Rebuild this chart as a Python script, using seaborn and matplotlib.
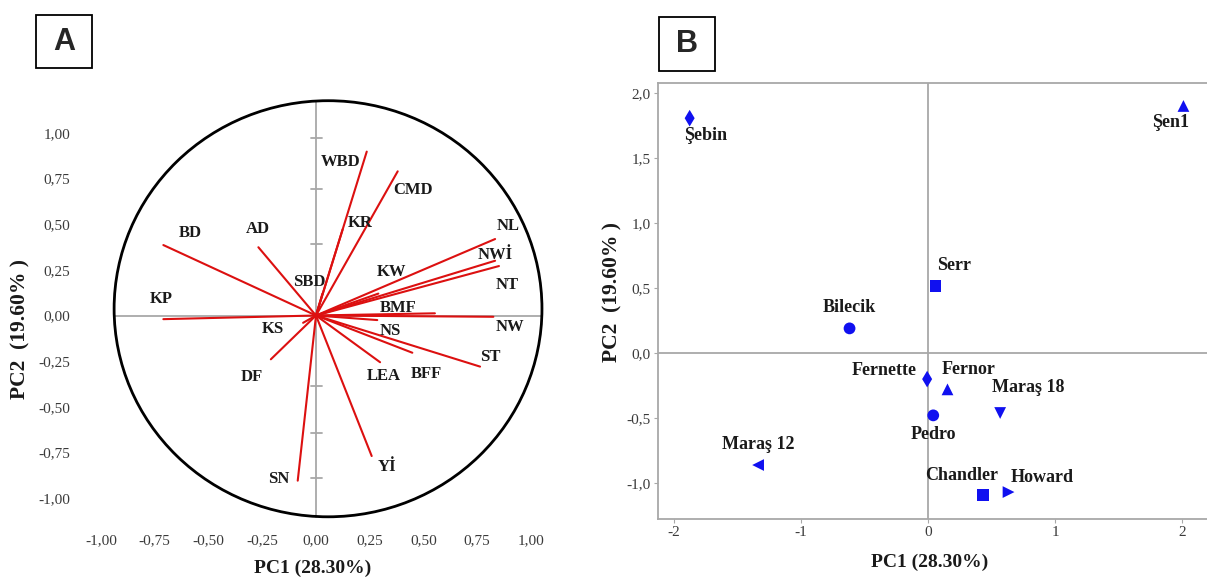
import numpy as np
import pandas as pd
import matplotlib
matplotlib.use("Agg")
import matplotlib.pyplot as plt
from matplotlib.patches import Ellipse, Rectangle
import seaborn as sns

# Panel A: loadings of the traits on PC1 / PC2
traits = ['WBD', 'CMD', 'KR', 'SBD', 'BD', 'AD', 'KP', 'NL', 'NWİ', 'NT', 'KW',
          'BMF', 'NW', 'NS', 'KS', 'DF', 'LEA', 'BFF', 'ST', 'SN', 'Yİ']
load_pc1 = [0.236, 0.380, 0.124, 0.030, -0.710, -0.268, -0.710, 0.833, 0.833, 0.851, 0.290,
            0.553, 0.825, 0.285, -0.060, -0.210, 0.298, 0.448, 0.763, -0.085, 0.259]
load_pc2 = [0.898, 0.790, 0.472, 0.120, 0.386, 0.374, -0.020, 0.419, 0.300, 0.271, 0.120,
            0.012, -0.007, -0.025, -0.040, -0.240, -0.256, -0.204, -0.280, -0.905, -0.770]

# Panel B: cultivar scores
cultivars = ['Şebin', 'Şen1', 'Serr', 'Bilecik', 'Fernette', 'Fernor', 'Maraş 18',
             'Pedro', 'Maraş 12', 'Chandler', 'Howard']
score_pc1 = [-1.873, 2.009, 0.060, -0.616, -0.006, 0.154, 0.568, 0.042, -1.335, 0.435, 0.634]
score_pc2 = [1.804, 1.898, 0.515, 0.187, -0.203, -0.282, -0.464, -0.482, -0.864, -1.097, -1.072]

ticks_a = [-1.0, -0.75, -0.5, -0.25, 0.0, 0.25, 0.5, 0.75, 1.0]
ticks_b_x = [-2, -1, 0, 1, 2]
ticks_b_y = [-1.0, -0.5, 0.0, 0.5, 1.0, 1.5, 2.0]

# where the trait labels sit (layout only)
label_pos_a = {
    'WBD': (0.115, 0.843), 'CMD': (0.450, 0.688), 'KR': (0.205, 0.505), 'SBD': (-0.033, 0.185),
    'BD': (-0.586, 0.454), 'AD': (-0.271, 0.474), 'KP': (-0.718, 0.090), 'NL': (0.894, 0.490),
    'NWİ': (0.833, 0.331), 'NT': (0.887, 0.167), 'KW': (0.352, 0.240), 'BMF': (0.383, 0.043),
    'NW': (0.902, -0.061), 'NS': (0.344, -0.085), 'KS': (-0.199, -0.076), 'DF': (-0.299, -0.335),
    'LEA': (0.313, -0.330), 'BFF': (0.512, -0.322), 'ST': (0.809, -0.226), 'SN': (-0.171, -0.898),
    'Yİ': (0.332, -0.829),
}
label_pos_b = {
    'Şebin': (-1.75, 1.67), 'Şen1': (1.91, 1.77), 'Serr': (0.205, 0.668), 'Bilecik': (-0.616, 0.349),
    'Fernette': (-0.344, -0.138), 'Fernor': (0.317, -0.133), 'Maraş 18': (0.785, -0.267),
    'Pedro': (0.042, -0.626), 'Maraş 12': (-1.335, -0.703), 'Chandler': (0.266, -0.941),
    'Howard': (0.90, -0.959),
}
marker_map = {'Şebin': 'd', 'Şen1': '^', 'Serr': 's', 'Bilecik': 'o', 'Fernette': 'd',
              'Fernor': '^', 'Maraş 18': 'v', 'Pedro': 'o', 'Maraş 12': '<', 'Chandler': 's',
              'Howard': '>'}

sns.set_style("white")
plt.rcParams['font.family'] = ['Liberation Serif', 'DejaVu Serif']

W, H = 1207, 579
fig = plt.figure(figsize=(W / 100, H / 100), dpi=100)


def px_rect(left, top, right, bottom):
    return [left / W, 1 - bottom / H, (right - left) / W, (bottom - top) / H]


red = '#dc1010'
grey = '#a8a8a8'
tick_col = '#3a3a3a'

# ---------------- panel A ----------------
xa0, xa1, ya0, ya1 = -1.0, 1.1, -1.2, 1.25
axA = fig.add_axes(px_rect(316 + 215 * xa0, 315.5 - 182.5 * ya1,
                           316 + 215 * xa1, 315.5 - 182.5 * ya0))
axA.set_xlim(xa0, xa1)
axA.set_ylim(ya0, ya1)

circ_c = (0.056, 0.037)
circ_w, circ_h = 1.99, 2.28
axA.plot([circ_c[0] - circ_w / 2, circ_c[0] + circ_w / 2], [0, 0], color=grey, lw=1.3, zorder=1)
axA.plot([0, 0], [circ_c[1] - circ_h / 2, circ_c[1] + circ_h / 2], color=grey, lw=1.3, zorder=1)
for yt in [0.974, 0.693, 0.393, -0.386, -0.645, -0.892]:
    axA.plot([-0.022, 0.03], [yt, yt], color=grey, lw=1.3, zorder=1)
axA.add_patch(Ellipse(circ_c, circ_w, circ_h, fill=False, ec='black', lw=2.0, zorder=3))

seg = pd.DataFrame({
    'trait': np.repeat(traits, 2),
    'x': np.ravel([[0.0, v] for v in load_pc1]),
    'y': np.ravel([[0.0, v] for v in load_pc2]),
})
sns.lineplot(data=seg, x='x', y='y', units='trait', estimator=None, sort=False,
             color=red, lw=1.5, ax=axA, zorder=2)

for t in traits:
    lx, ly = label_pos_a[t]
    axA.text(lx, ly, t, ha='center', va='center', fontsize=12, fontweight='bold',
             color='#1a1a1a', zorder=4)

axA.set_xticks(ticks_a)
axA.set_yticks(ticks_a)
axA.set_xticklabels([f"{v:.2f}".replace('.', ',') for v in ticks_a])
axA.set_yticklabels([f"{v:.2f}".replace('.', ',') for v in ticks_a])
axA.tick_params(length=0, labelsize=11, colors=tick_col)
axA.tick_params(axis='x', pad=0)
axA.tick_params(axis='y', pad=22)
for s in axA.spines.values():
    s.set_visible(False)
axA.set_xlabel('')
axA.set_ylabel('')
fig.text(313 / W, 1 - 568 / H, 'PC1 (28.30%)', ha='center', va='center',
         fontsize=14, fontweight='bold', color='#1a1a1a')
fig.text(20 / W, 1 - 329 / H, 'PC2  (19.60% )', ha='center', va='center', rotation=90,
         fontsize=15.5, fontweight='bold', color='#1a1a1a')

# ---------------- panel B ----------------
xb0, xb1, yb0, yb1 = -2.124, 2.23, -1.282, 2.072
axB = fig.add_axes(px_rect(927.9 + 127.2 * xb0, 352.7 - 130 * yb1,
                           927.9 + 127.2 * xb1, 352.7 - 130 * yb0))
axB.set_xlim(xb0, xb1)
axB.set_ylim(yb0, yb1)
axB.axhline(0, color=grey, lw=1.3, zorder=1)
axB.axvline(0, color=grey, lw=1.3, zorder=1)

pts = pd.DataFrame({'cultivar': cultivars, 'pc1': score_pc1, 'pc2': score_pc2})
sns.scatterplot(data=pts, x='pc1', y='pc2', style='cultivar', markers=marker_map,
                color='#1010f0', s=72, edgecolor='none', legend=False, ax=axB, zorder=3)
for c in cultivars:
    lx, ly = label_pos_b[c]
    axB.text(lx, ly, c, ha='center', va='center', fontsize=13, fontweight='bold',
             color='#1a1a1a', zorder=4)

axB.set_xticks(ticks_b_x)
axB.set_yticks(ticks_b_y)
axB.set_xticklabels([str(v) for v in ticks_b_x])
axB.set_yticklabels([f"{v:.1f}".replace('.', ',') for v in ticks_b_y])
axB.tick_params(length=3, width=0.8, color=grey, labelsize=11, colors=tick_col, pad=2,
                left=True, bottom=True)
for s in axB.spines.values():
    s.set_color(grey)
    s.set_linewidth(1.3)
axB.set_xlabel('')
axB.set_ylabel('')
fig.text(930 / W, 1 - 562 / H, 'PC1 (28.30%)', ha='center', va='center',
         fontsize=14, fontweight='bold', color='#1a1a1a')
fig.text(612 / W, 1 - 292 / H, 'PC2  (19.60% )', ha='center', va='center', rotation=90,
         fontsize=15.5, fontweight='bold', color='#1a1a1a')

# panel letters in boxes
for (l, t, r, b), letter in [((35.5, 15, 92.3, 68.3), 'A'), ((658.5, 17.3, 715.4, 71), 'B')]:
    fig.patches.append(Rectangle((l / W, 1 - b / H), (r - l) / W, (b - t) / H,
                                 transform=fig.transFigure, fill=False, ec='black', lw=1.3))
    fig.text((l + r) / 2 / W, 1 - (t + b) / 2 / H, letter, ha='center', va='center',
             fontsize=22, fontweight='bold', family='Liberation Sans')

fig.savefig('out.png', dpi=100)
